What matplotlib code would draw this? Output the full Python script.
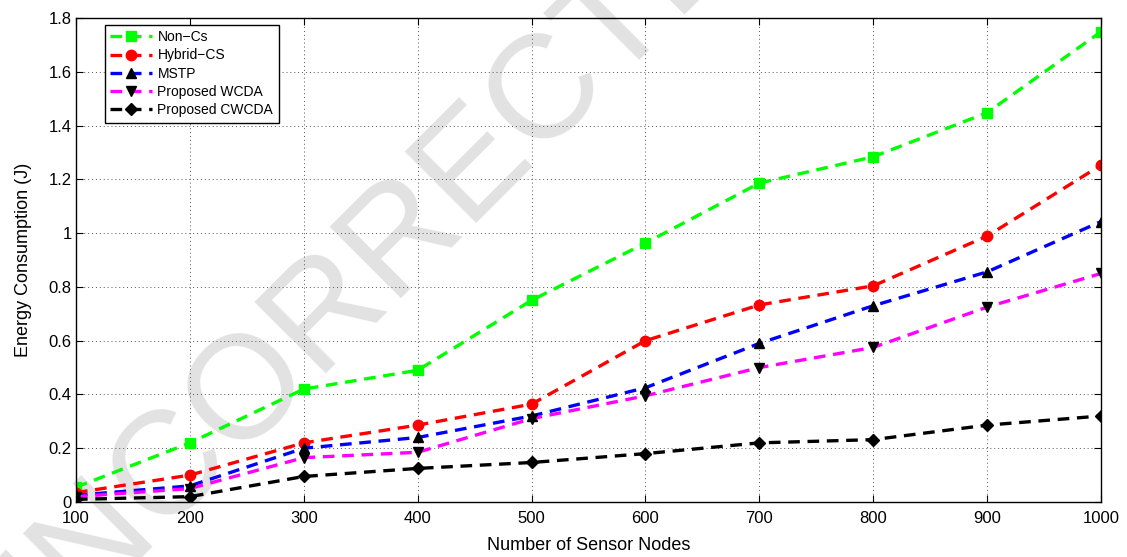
import numpy as np
import matplotlib
matplotlib.use("Agg")
import matplotlib.pyplot as plt
import matplotlib.ticker as ticker

plt.rcParams["font.family"] = ["Liberation Sans", "DejaVu Sans"]

nodes = [100, 200, 300, 400, 500, 600, 700, 800, 900, 1000]
non_cs = [0.055, 0.22, 0.42, 0.49, 0.75, 0.963, 1.186, 1.284, 1.448, 1.749]
hybrid_cs = [0.035, 0.10, 0.22, 0.286, 0.364, 0.60, 0.733, 0.804, 0.989, 1.253]
mstp = [0.025, 0.06, 0.20, 0.24, 0.32, 0.425, 0.59, 0.73, 0.856, 1.043]
wcda = [0.02, 0.05, 0.165, 0.185, 0.31, 0.395, 0.50, 0.575, 0.725, 0.85]
cwcda = [0.01, 0.02, 0.095, 0.125, 0.147, 0.18, 0.22, 0.232, 0.286, 0.32]

series = [
    ("Non\u2212Cs", non_cs, "#00ff00", "s", "#00ff00"),
    ("Hybrid\u2212CS", hybrid_cs, "#ff0000", "o", "#ff0000"),
    ("MSTP", mstp, "#0000ff", "^", "black"),
    ("Proposed WCDA", wcda, "#ff00ff", "v", "black"),
    ("Proposed CWCDA", cwcda, "black", "D", "black"),
]

fig = plt.figure(figsize=(11.27, 5.57), dpi=100)
ax = fig.add_axes([0.0674, 0.0987, 0.9096, 0.869])
ax.set_zorder(1)
ax.patch.set_alpha(0)

# watermark behind the plot
fig.text(0.010, -0.236, "UNCORRECTED PROOF", rotation=45, rotation_mode="anchor",
         fontsize=106, color="#e2e2e3", ha="left", va="baseline", zorder=0)

for label, vals, col, mk, mcol in series:
    ms = 6.5 if mk == "D" else 7.5
    ax.plot(nodes, vals, color=col, lw=2.4, ls=(0, (3.5, 2.3)),
            marker=mk, markersize=ms, markerfacecolor=mcol, markeredgecolor=mcol,
            label=label)

ax.set_xlim(100, 1000)
ax.set_ylim(0, 1.8)
ax.set_xticks(nodes)
ax.set_yticks(np.arange(0, 1.81, 0.2))
ax.yaxis.set_major_formatter(ticker.FuncFormatter(lambda v, p: f"{v:g}"))
ax.tick_params(direction="in", top=True, right=True, labelsize=12, length=5, width=0.8)
ax.tick_params(axis="x", pad=6.5)
ax.tick_params(axis="y", pad=3)
ax.grid(True, ls=(0, (1, 3)), color="#555555", lw=0.7)
for sp in ax.spines.values():
    sp.set_linewidth(1.0)

ax.set_xlabel("Number of Sensor Nodes", fontsize=13, labelpad=8)
ax.set_ylabel("Energy Consumption (J)", fontsize=13, labelpad=12)

leg = ax.legend(loc="upper left", bbox_to_anchor=(0.028, 0.986), borderaxespad=0,
                fontsize=10, fancybox=False, edgecolor="black", framealpha=1,
                handlelength=3.0, labelspacing=0.3, numpoints=1,
                borderpad=0.4, handletextpad=0.4)
leg.get_frame().set_linewidth(1.0)

fig.savefig("out.png", dpi=100)
